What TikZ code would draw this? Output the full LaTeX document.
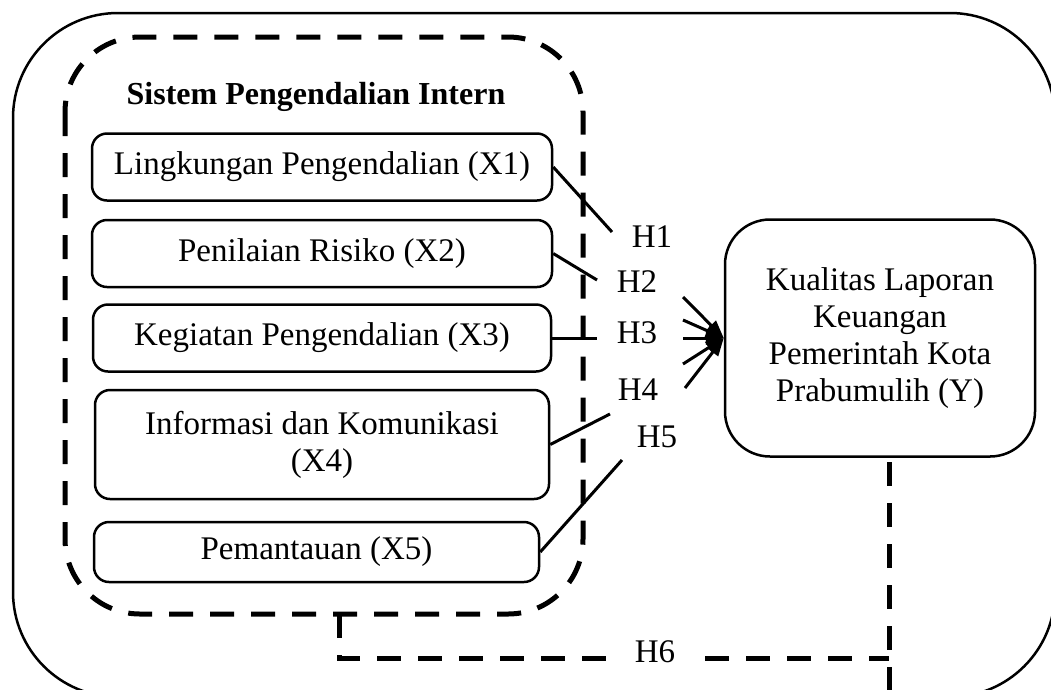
\documentclass[tikz,border=0pt]{standalone}
\usepackage{fontspec}
\setmainfont{Liberation Serif}
\usetikzlibrary{arrows.meta}
\begin{document}
\begin{tikzpicture}[x=1pt,y=-1pt,
  font=\fontsize{33}{37}\selectfont,
  box/.style={draw, line width=2.5pt, rounded corners=15pt, align=center, inner sep=0pt},
  ybox/.style={draw, line width=2.5pt, rounded corners=45pt, align=center, inner sep=0pt},
  conn/.style={line width=3pt},
  arr/.style={line width=3pt, -{Triangle[length=18pt,width=13pt]}},
  dashline/.style={line width=5pt, dash pattern=on 24pt off 17pt},
  lbl/.style={inner sep=0pt}]
\useasboundingbox (0,0) rectangle (1051,689);
\clip (0,0) rectangle (1051,689);
% outer frame
\draw[line width=2.5pt, rounded corners=105pt] (13,13) rectangle (1055,697);
% dashed system frame
\draw[dashline, rounded corners=75pt] (65,37) rectangle (583,614);
\node[lbl, font=\fontsize{32}{37}\selectfont\bfseries] (title) at (316,97) {Sistem Pengendalian Intern};
% variable boxes
\node[box, minimum width=460, minimum height=67] (x1) at (322,167) {Lingkungan Pengendalian (X1)};
\node[box, minimum width=460, minimum height=67] (x2) at (322,253.5) {Penilaian Risiko (X2)};
\node[box, minimum width=458, minimum height=67] (x3) at (322,338) {Kegiatan Pengendalian (X3)};
\node[box, minimum width=454, minimum height=109] (x4) at (322,444.5) {Informasi dan Komunikasi\\(X4)};
\node[box, minimum width=445, minimum height=60] (x5) at (316.5,552) {Pemantauan (X5)};
\node[ybox, minimum width=310, minimum height=237] (y) at (880,338) {Kualitas Laporan\\Keuangan\\Pemerintah Kota\\Prabumulih (Y)};
% labels
\node[lbl] (h1) at (652,237) {H1};
\node[lbl] (h2) at (637,282) {H2};
\node[lbl] (h3) at (637,333) {H3};
\node[lbl] (h4) at (638,390) {H4};
\node[lbl] (h5) at (657,437) {H5};
\node[lbl] (h6) at (655,652) {H6};
% connector ends
\coordinate (e1) at (612,232);
\coordinate (e2) at (597,280);
\coordinate (e3) at (597,338);
\coordinate (e4) at (610,414);
\coordinate (e5) at (622,460);
\coordinate (a1) at (683,297);
\coordinate (a2) at (683,320);
\coordinate (a3) at (683,338);
\coordinate (a4) at (683,364);
\coordinate (a5) at (685,388);
\draw[conn] (x1.east) -- (e1);
\draw[conn] (x2.east) -- (e2);
\draw[conn] (x3.east) -- (e3);
\draw[conn] (x4.east) -- (e4);
\draw[conn] (x5.east) -- (e5);
\foreach \a in {a1,a2,a3,a4,a5} \draw[arr] (\a) -- (y.west);
% H6 dashed path
\coordinate (d0) at (339,614);
\coordinate (d1) at (339,658);
\coordinate (d2) at (610,658);
\coordinate (d3) at (705,658);
\coordinate (d4) at (889,658);
\coordinate (d5) at (889,462);
\coordinate (d6) at (889,700);
\draw[dashline] (d0) -- (d1) -- (d2);
\draw[dashline] (d3) -- (d4);
\draw[dashline] (d5) -- (d6);
\end{tikzpicture}
\end{document}
